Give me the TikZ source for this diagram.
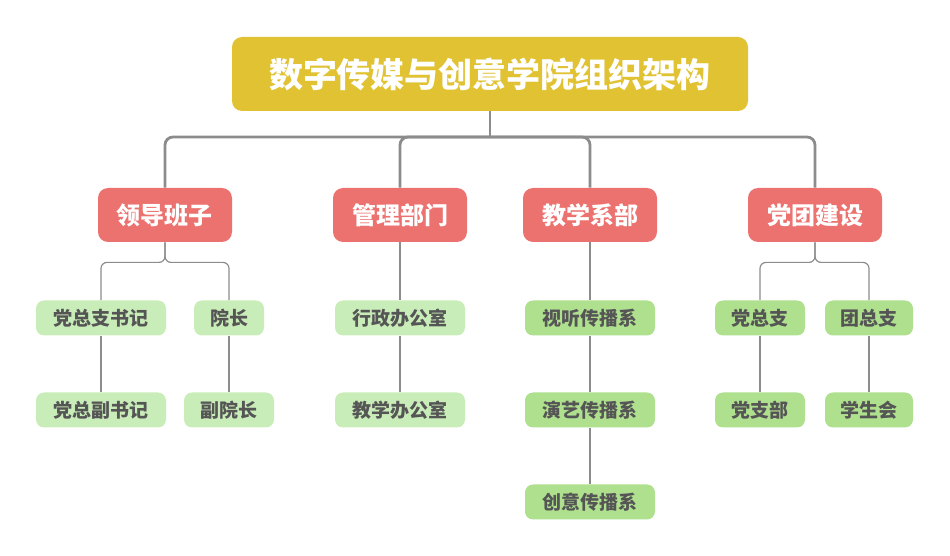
\documentclass[tikz,border=0pt]{standalone}
\usepackage{fontspec}
\setmainfont{Noto Sans CJK SC}
\usetikzlibrary{positioning}
\definecolor{titlebg}{HTML}{E0C232}
\definecolor{deptbg}{HTML}{EC7270}
\definecolor{leafpale}{HTML}{C9EDB8}
\definecolor{leafgreen}{HTML}{AEE08E}
\definecolor{linegray}{HTML}{8C8C8C}
\definecolor{leaftext}{HTML}{555555}
\tikzset{
  titlebox/.style={fill=titlebg, rounded corners=5pt, minimum width=258pt, minimum height=37pt, text=white, font=\fontsize{17}{17}\selectfont\bfseries},
  deptbox/.style={fill=deptbg, rounded corners=5pt, minimum width=67pt, minimum height=27pt, text=white, font=\fontsize{12}{12}\selectfont\bfseries},
  leafbox/.style={rounded corners=4pt, minimum height=17.5pt, text=leaftext, font=\fontsize{9.5}{9.5}\selectfont\bfseries},
  trunk/.style={draw=linegray, line width=1.4pt, rounded corners=4pt},
  twig/.style={draw=linegray, line width=0.6pt, rounded corners=3pt}
}
\begin{document}
\begin{tikzpicture}[x=0.5pt,y=-0.5pt]
\useasboundingbox (0,0) rectangle (950,556);
% Title
\node[titlebox] (Title) at (490,74) {数字传媒与创意学院组织架构};
% Departments
\node[deptbox] (Lead) at (165,215) {领导班子};
\node[deptbox] (Admin) at (400,215) {管理部门};
\node[deptbox] (Teach) at (590,215) {教学系部};
\node[deptbox] (Party) at (815,215) {党团建设};
% Leaves
\node[leafbox, fill=leafpale, minimum width=65pt] (SecA) at (101,318) {党总支书记};
\node[leafbox, fill=leafpale, minimum width=35pt] (Dean) at (229,318) {院长};
\node[leafbox, fill=leafpale, minimum width=65pt] (SecB) at (101,410) {党总副书记};
\node[leafbox, fill=leafpale, minimum width=45pt] (ViceDean) at (229,410) {副院长};
\node[leafbox, fill=leafpale, minimum width=65pt] (AdmOff) at (400,318) {行政办公室};
\node[leafbox, fill=leafpale, minimum width=65pt] (EduOff) at (400,410) {教学办公室};
\node[leafbox, fill=leafgreen, minimum width=65pt] (AV) at (590,318) {视听传播系};
\node[leafbox, fill=leafgreen, minimum width=65pt] (Perf) at (590,410) {演艺传播系};
\node[leafbox, fill=leafgreen, minimum width=65pt] (Crea) at (590,502) {创意传播系};
\node[leafbox, fill=leafgreen, minimum width=45pt] (PGen) at (760,318) {党总支};
\node[leafbox, fill=leafgreen, minimum width=44pt] (YGen) at (869,318) {团总支};
\node[leafbox, fill=leafgreen, minimum width=45pt] (PBr) at (760,410) {党支部};
\node[leafbox, fill=leafgreen, minimum width=44pt] (Stu) at (869,410) {学生会};
% Trunk
\coordinate (Hub) at (490,137);
\draw[line width=1.4pt, draw=linegray] (Title.south) -- (Hub);
\foreach \d in {Lead,Admin,Teach,Party}
  \draw[trunk] (Hub) -| (\d.north);
% Branches
\draw[twig] (Lead.south) -- ++(0,20) -| (SecA.north);
\draw[twig] (Lead.south) -- ++(0,20) -| (Dean.north);
\draw[twig] (Party.south) -- ++(0,20) -| (PGen.north);
\draw[twig] (Party.south) -- ++(0,20) -| (YGen.north);
\draw[twig] (Admin) -- (AdmOff);
\draw[twig] (Teach) -- (AV);
\draw[twig] (SecA) -- (SecB);
\draw[twig] (Dean) -- (ViceDean);
\draw[twig] (AdmOff) -- (EduOff);
\draw[twig] (AV) -- (Perf);
\draw[twig] (Perf) -- (Crea);
\draw[twig] (PGen) -- (PBr);
\draw[twig] (YGen) -- (Stu);
\end{tikzpicture}
\end{document}
